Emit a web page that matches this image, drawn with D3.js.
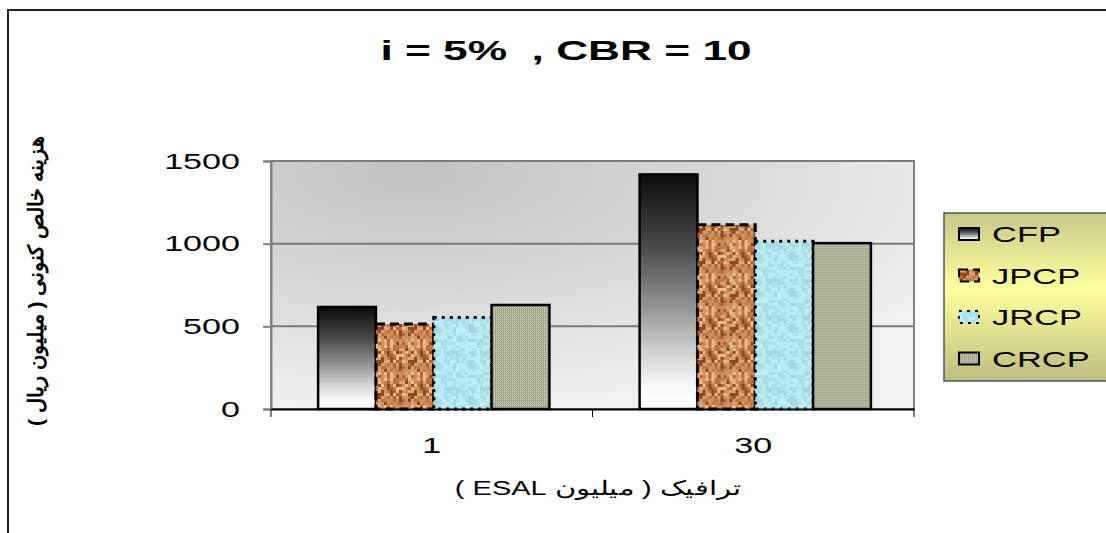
<!DOCTYPE html>
<html>
<head>
<meta charset="utf-8">
<script src="https://cdn.jsdelivr.net/npm/d3@7"></script>
<style>
  html, body { margin: 0; padding: 0; background: #fff; }
  svg { display: block; }
  text { font-family: "Liberation Sans", Arial, sans-serif; }
</style>
</head>
<body>
<script>
// Net present cost by traffic level and pavement type
const categories = ["1", "30"];
const series = ["CFP", "JPCP", "JRCP", "CRCP"];
const cfpValues = [617, 1419];
const jpcpValues = [514, 1114];
const jrcpValues = [554, 1015];
const crcpValues = [629, 1003];
const yTickValues = [0, 500, 1000, 1500];

const titleText = "i = 5%  , CBR = 10";
const yTitle = "هزینه خالص کنونی ( میلیون ریال )";
const xTitle = "ترافیک ( میلیون ESAL )";

const valuesBySeries = { CFP: cfpValues, JPCP: jpcpValues, JRCP: jrcpValues, CRCP: crcpValues };

const W = 1106, H = 533;
const plot = { left: 271, right: 914, top: 161, bottom: 409 };
const SX = 1.55; // horizontal widening applied to the Latin labels

const svg = d3.select("body").append("svg").attr("width", W).attr("height", H);
const defs = svg.append("defs");

// Plot area shading: darker toward the upper left
const bg = defs.append("radialGradient").attr("id", "plotBg")
  .attr("cx", 0.22).attr("cy", 0.05).attr("r", 0.95).attr("fx", 0.22).attr("fy", 0.05);
bg.append("stop").attr("offset", 0).attr("stop-color", "#c2c2c2");
bg.append("stop").attr("offset", 0.45).attr("stop-color", "#d6d6d6");
bg.append("stop").attr("offset", 1).attr("stop-color", "#f0f0f0");

// CFP: black-to-white vertical fade
const cfpGrad = defs.append("linearGradient").attr("id", "cfpFill")
  .attr("x1", 0).attr("y1", 0).attr("x2", 0).attr("y2", 1);
[[0, "#0c0c0c"], [0.3, "#474747"], [0.55, "#8f8f8f"], [0.75, "#cfcfcf"], [0.9, "#f7f7f7"], [1, "#ffffff"]]
  .forEach(([o, c]) => cfpGrad.append("stop").attr("offset", o).attr("stop-color", c));

function hash(i, j, s) {
  let h = (i * 374761393 + j * 668265263 + s * 2147483647) | 0;
  h = (h ^ (h >>> 13)) * 1274126177 | 0;
  return ((h ^ (h >>> 16)) >>> 0);
}

// JPCP: cork-like speckle texture
const cork = defs.append("pattern").attr("id", "corkFill")
  .attr("patternUnits", "userSpaceOnUse").attr("width", 33).attr("height", 33);
const corkPalette = ["#e0a574", "#d08c58", "#c07a48", "#eebb8a", "#a9623a", "#dca070", "#8a4a22", "#cf9262", "#b87040"];
for (let i = 0; i < 11; i++) {
  for (let j = 0; j < 11; j++) {
    cork.append("rect").attr("x", i * 3).attr("y", j * 3).attr("width", 3).attr("height", 3)
      .attr("fill", corkPalette[hash(i, j, 7) % corkPalette.length]);
  }
}

// JRCP: pale water texture
const water = defs.append("pattern").attr("id", "waterFill")
  .attr("patternUnits", "userSpaceOnUse").attr("width", 36).attr("height", 36);
water.append("rect").attr("width", 36).attr("height", 36).attr("fill", "#b6e7f1");
const waterPalette = ["#a8dbe6", "#bdeef7", "#9fd2de", "#c4f1f8", "#b0e2ec"];
for (let i = 0; i < 12; i++) {
  for (let j = 0; j < 12; j++) {
    water.append("rect").attr("x", i * 3).attr("y", j * 3).attr("width", 3).attr("height", 3)
      .attr("fill", waterPalette[hash(i, j, 3) % waterPalette.length]).attr("opacity", 0.7);
  }
}

// CRCP: fine woven grid
const grid = defs.append("pattern").attr("id", "gridFill")
  .attr("patternUnits", "userSpaceOnUse").attr("width", 2).attr("height", 2);
grid.append("rect").attr("width", 2).attr("height", 2).attr("fill", "#dcdcc2");
grid.append("rect").attr("width", 1).attr("height", 2).attr("fill", "#9a9a82");
grid.append("rect").attr("width", 2).attr("height", 1).attr("fill", "#a8a890");

// Legend background
const legGrad = defs.append("linearGradient").attr("id", "legendBg")
  .attr("x1", 0).attr("y1", 0).attr("x2", 0).attr("y2", 1);
[[0, "#c8c88a"], [0.45, "#ffff9e"], [1, "#bdbd7f"]]
  .forEach(([o, c]) => legGrad.append("stop").attr("offset", o).attr("stop-color", c));

const styles = {
  CFP:  { fill: "url(#cfpFill)",   dash: null,  width: 2.5 },
  JPCP: { fill: "url(#corkFill)",  dash: "9,5", width: 3 },
  JRCP: { fill: "url(#waterFill)", dash: "3,5", width: 3 },
  CRCP: { fill: "url(#gridFill)",  dash: null,  width: 2.5 }
};

// Outer chart frame
svg.append("path").attr("d", `M8,${H} V10 H${W}`)
  .attr("fill", "none").attr("stroke", "#222").attr("stroke-width", 2);

// Scales
const x0 = d3.scaleBand().domain(categories).range([plot.left, plot.right]).paddingInner(0).paddingOuter(0);
const x1 = d3.scaleBand().domain(series).range([0, x0.bandwidth()]).paddingInner(0).paddingOuter(0.78);
const y = d3.scaleLinear().domain([0, 1500]).range([plot.bottom, plot.top]);

// Plot area
svg.append("rect").attr("x", plot.left).attr("y", plot.top)
  .attr("width", plot.right - plot.left).attr("height", plot.bottom - plot.top)
  .attr("fill", "url(#plotBg)").attr("stroke", "#808080").attr("stroke-width", 2);

// Gridlines
svg.append("g").selectAll("line").data(yTickValues.filter(v => v > 0)).join("line")
  .attr("x1", plot.left).attr("x2", plot.right)
  .attr("y1", d => y(d)).attr("y2", d => y(d))
  .attr("stroke", "#7a7a7a").attr("stroke-width", 2);

// Y axis
const yAxis = svg.append("g").attr("transform", `translate(${plot.left},0)`)
  .call(d3.axisLeft(y).tickValues(yTickValues).tickFormat(d3.format("d")).tickSize(8));
yAxis.select(".domain").attr("stroke", "#808080").attr("stroke-width", 2);
yAxis.selectAll(".tick line").attr("stroke", "#808080").attr("stroke-width", 2);
yAxis.selectAll(".tick text")
  .attr("font-size", 22).attr("fill", "#000")
  .attr("font-family", "'Liberation Sans', Arial, sans-serif")
  .attr("x", -31 / SX).attr("transform", `scale(${SX},1)`);

// Bars
const groups = svg.append("g").selectAll("g").data(categories).join("g")
  .attr("transform", d => `translate(${x0(d) + 2},0)`);
groups.selectAll("rect")
  .data((c, ci) => series.map(s => ({ s, v: valuesBySeries[s][ci] })))
  .join("rect")
  .attr("x", d => x1(d.s))
  .attr("y", d => y(d.v))
  .attr("width", x1.bandwidth())
  .attr("height", d => y(0) - y(d.v))
  .attr("fill", d => styles[d.s].fill)
  .attr("stroke", "#000")
  .attr("stroke-width", d => styles[d.s].width)
  .attr("stroke-dasharray", d => styles[d.s].dash);

// X axis
const xAxis = svg.append("g").attr("transform", `translate(0,${plot.bottom})`)
  .call(d3.axisBottom(x0).tickSize(0).tickPadding(28));
xAxis.select(".domain").attr("stroke", "#000").attr("stroke-width", 2);
xAxis.selectAll(".tick text")
  .attr("font-size", 22).attr("fill", "#000")
  .attr("font-family", "'Liberation Sans', Arial, sans-serif")
  .attr("transform", `scale(${SX},1)`);
// Category separators
svg.append("g").selectAll("line")
  .data(categories.map(c => x0(c)).concat([plot.right])).join("line")
  .attr("x1", d => d).attr("x2", d => d)
  .attr("y1", plot.bottom).attr("y2", plot.bottom + 8)
  .attr("stroke", "#000").attr("stroke-width", 1);

// Title
svg.append("text").attr("transform", `translate(566,60) scale(1.58,1)`).attr("text-anchor", "middle")
  .attr("font-size", 28).attr("font-weight", "bold").style("white-space", "pre").text(titleText);

// Axis titles
svg.append("text").attr("transform", `translate(598,495) scale(1.45,1)`).attr("text-anchor", "middle")
  .attr("direction", "rtl").attr("font-size", 20)
  .attr("font-family", "'DejaVu Sans', 'Noto Sans', sans-serif").text(xTitle);
svg.append("text").attr("transform", "translate(43,281) rotate(-90)").attr("text-anchor", "middle")
  .attr("direction", "rtl").attr("font-size", 21).attr("font-weight", "bold")
  .attr("font-family", "'DejaVu Sans', 'Noto Sans', sans-serif").text(yTitle);

// Legend
const legend = svg.append("g");
legend.append("rect").attr("x", 944).attr("y", 213).attr("width", 170).attr("height", 168)
  .attr("fill", "url(#legendBg)").attr("stroke", "#555").attr("stroke-width", 1.5);
const items = legend.selectAll("g.item").data(series).join("g").attr("class", "item")
  .attr("transform", (d, i) => `translate(0,${234 + i * 41.5})`);
items.append("rect").attr("x", 959).attr("y", -6).attr("width", 20).attr("height", 12)
  .attr("fill", d => styles[d].fill).attr("stroke", "#000")
  .attr("stroke-width", 2).attr("stroke-dasharray", d => styles[d].dash);
items.append("text").attr("transform", `translate(992,0) scale(1.5,1)`).attr("dy", "0.35em")
  .attr("font-size", 23).text(d => d);
</script>
</body>
</html>
